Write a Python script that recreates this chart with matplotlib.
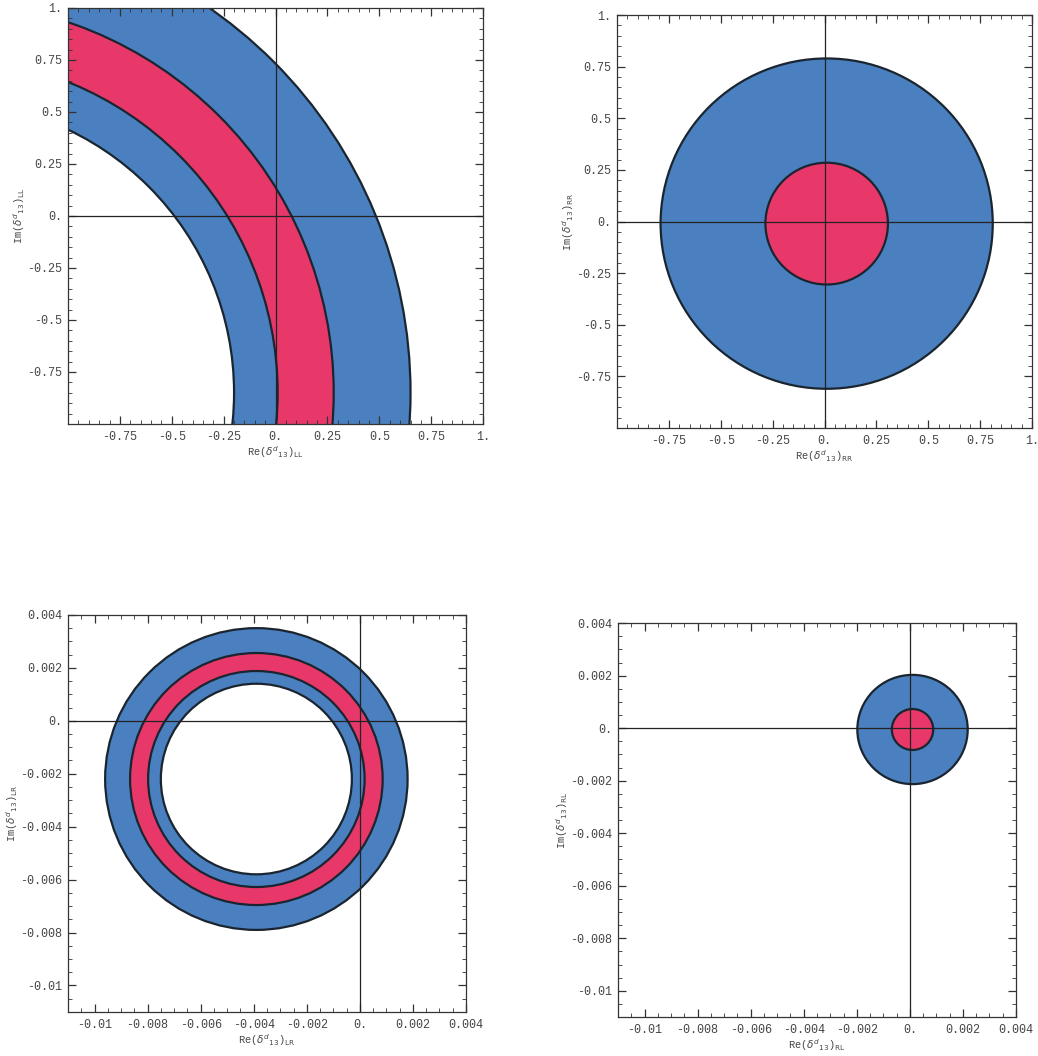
import numpy as np
import matplotlib
matplotlib.use("Agg")
import matplotlib.pyplot as plt
from matplotlib.patches import Circle
from matplotlib.ticker import MultipleLocator

plt.rcParams['font.family'] = ['Liberation Mono', 'DejaVu Sans Mono']
plt.rcParams['mathtext.fontset'] = 'dejavusans'

blue = '#4a80bf'
red = '#e8386a'

# ---- LL panel: annuli centred off-axis ----
ll_center = (-1.60, -0.85)
ll_radii = [2.25, 1.88, 1.61, 1.40]
# ---- RR panel ----
rr_center = (0.01, -0.01)
rr_radii = [0.80, 0.295]
# ---- LR panel ----
lr_center = (-0.0039, -0.0022)
lr_radii = [0.0057, 0.00476, 0.00408, 0.0036]
# ---- RL panel ----
rl_center = (0.0001, -0.00005)
rl_radii = [0.00208, 0.00078]

big_ticks = [-0.75, -0.5, -0.25, 0.0, 0.25, 0.5, 0.75, 1.0]
big_labels = ['-0.75', '-0.5', '-0.25', '0.', '0.25', '0.5', '0.75', '1.']
small_ticks = [-0.01, -0.008, -0.006, -0.004, -0.002, 0.0, 0.002, 0.004]
small_labels = ['-0.01', '-0.008', '-0.006', '-0.004', '-0.002', '0.', '0.002', '0.004']

fig = plt.figure(figsize=(10.38, 10.56), dpi=100)

ax1 = fig.add_axes([0.0655, 0.5985, 0.400, 0.394])
ax2 = fig.add_axes([0.5944, 0.5947, 0.400, 0.391])
ax3 = fig.add_axes([0.0655, 0.0417, 0.3834, 0.376])
ax4 = fig.add_axes([0.5954, 0.0369, 0.3834, 0.373])


def rings(ax, center, radii, colors):
    for i in range(len(radii)):
        ax.add_patch(Circle(center, radii[i], facecolor=colors[i],
                            edgecolor='#1a2530', linewidth=1.6,
                            zorder=1 + 0.1 * i))


def setup(ax, lim, ticks, labels, minor, sub):
    ax.set_xlim(lim)
    ax.set_ylim(lim)
    ax.set_xticks(ticks)
    ax.set_xticklabels(labels)
    ax.set_yticks(ticks)
    ax.set_yticklabels(labels)
    ax.xaxis.set_minor_locator(MultipleLocator(minor))
    ax.yaxis.set_minor_locator(MultipleLocator(minor))
    ax.tick_params(which='both', direction='in', top=True, right=True,
                   labelsize=8.5, colors='#333333', labelcolor='#444444')
    ax.tick_params(which='major', length=6, width=0.9)
    ax.tick_params(axis='x', which='major', pad=5)
    ax.tick_params(axis='y', which='major', pad=4)
    ax.tick_params(which='minor', length=3, width=0.6)
    ax.axhline(0, color='#222222', lw=0.9, zorder=2)
    ax.axvline(0, color='#222222', lw=0.9, zorder=2)
    for s in ax.spines.values():
        s.set_color('#333333')
        s.set_linewidth(0.9)
        s.set_zorder(3)
    ax.set_xlabel(r'Re($\delta^{d}{}_{13}$)$_{\mathrm{%s}}$' % sub, fontsize=7.5,
                  color='#444444', labelpad=1)
    ax.set_ylabel(r'Im($\delta^{d}{}_{13}$)$_{\mathrm{%s}}$' % sub, fontsize=7.5,
                  color='#444444', labelpad=0)


rings(ax1, ll_center, ll_radii, [blue, red, blue, 'white'])
setup(ax1, (-1, 1), big_ticks, big_labels, 0.05, 'LL')

rings(ax2, rr_center, rr_radii, [blue, red])
setup(ax2, (-1, 1), big_ticks, big_labels, 0.05, 'RR')

rings(ax3, lr_center, lr_radii, [blue, red, blue, 'white'])
setup(ax3, (-0.011, 0.004), small_ticks, small_labels, 0.0005, 'LR')

rings(ax4, rl_center, rl_radii, [blue, red])
setup(ax4, (-0.011, 0.004), small_ticks, small_labels, 0.0005, 'RL')

fig.savefig('out.png', dpi=100)
